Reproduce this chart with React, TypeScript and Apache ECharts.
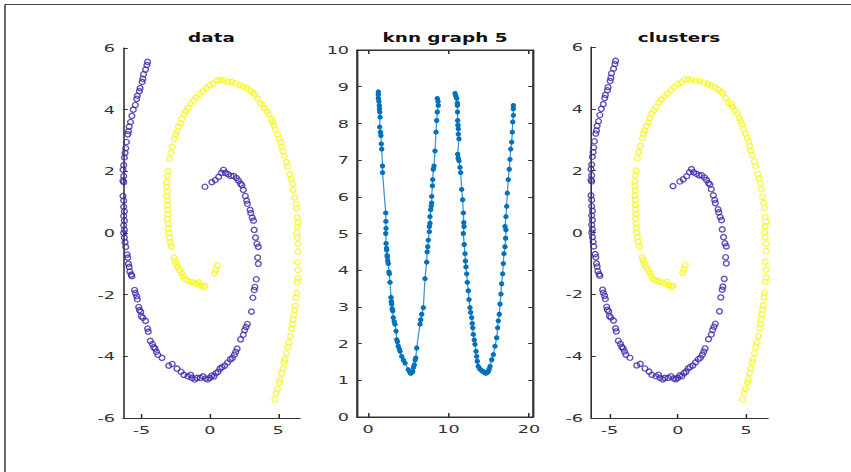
import React, { useEffect, useRef } from "react";
import * as echarts from "echarts";

// ---------- data ----------
const purpleSpiral: [number, number][] = [
  [-4.55, 5.55], [-4.6, 5.45], [-4.7, 5.3], [-4.85, 5.15], [-4.9, 5.0], [-4.95, 4.9], [-5.1, 4.7], [-5.15, 4.6],
  [-5.3, 4.45], [-5.35, 4.35], [-5.45, 4.15], [-5.6, 4.0], [-5.7, 3.8], [-5.8, 3.6], [-5.9, 3.45], [-5.95, 3.3],
  [-6.0, 3.2], [-6.1, 2.95], [-6.15, 2.75], [-6.2, 2.6], [-6.25, 2.45], [-6.3, 2.2], [-6.35, 2.05], [-6.3, 1.85],
  [-6.35, 1.7], [-6.3, 1.65], [-6.35, 1.2], [-6.3, 1.05], [-6.3, 0.85], [-6.25, 0.7], [-6.3, 0.55], [-6.25, 0.4],
  [-6.3, 0.25], [-6.25, 0.1], [-6.3, 0.0], [-6.25, -0.15], [-6.2, -0.3], [-6.15, -0.45], [-6.05, -0.7], [-6.0, -0.8],
  [-5.95, -1.0], [-5.9, -1.1], [-5.85, -1.25], [-5.75, -1.35], [-5.7, -1.4], [-5.5, -1.85], [-5.45, -1.95], [-5.35, -2.05],
  [-5.3, -2.15], [-5.2, -2.4], [-5.15, -2.5], [-5.05, -2.55], [-5.0, -2.7], [-4.9, -2.75], [-4.7, -2.85], [-4.55, -3.1],
  [-4.5, -3.2], [-4.35, -3.5], [-4.2, -3.6], [-4.1, -3.7], [-4.0, -3.75], [-3.9, -3.85], [-3.8, -3.95], [-3.5, -4.05],
  [-3.0, -4.3], [-2.75, -4.25], [-2.4, -4.4], [-2.1, -4.5], [-1.9, -4.6], [-1.6, -4.65], [-1.4, -4.6], [-1.3, -4.7],
  [-1.1, -4.75], [-0.95, -4.7], [-0.7, -4.7], [-0.5, -4.65], [-0.3, -4.72], [-0.15, -4.75], [0.0, -4.7], [0.15, -4.62],
  [0.3, -4.65], [0.45, -4.55], [0.6, -4.5], [0.75, -4.4], [0.9, -4.35], [1.1, -4.3], [1.3, -4.2], [1.5, -4.1],
  [1.65, -4.05], [1.8, -3.95], [1.9, -3.85], [2.0, -3.75], [2.25, -3.45], [2.45, -3.3], [2.55, -3.15], [2.65, -3.05],
  [2.75, -2.95], [3.05, -2.55], [3.15, -2.1], [3.25, -1.85], [3.3, -1.75], [3.4, -1.5], [3.55, -1.0], [3.5, -0.8],
  [3.55, -0.45], [3.45, -0.35], [3.35, -0.15], [3.25, 0.1], [3.2, 0.4], [3.1, 0.5], [3.0, 0.65], [2.95, 0.75],
  [2.75, 0.95], [2.7, 1.05], [2.6, 1.2], [2.45, 1.4], [2.35, 1.55], [2.25, 1.6], [2.1, 1.7], [1.95, 1.78],
  [1.75, 1.85], [1.55, 1.85], [1.35, 1.9], [1.15, 1.95], [1.0, 2.05], [0.85, 1.95], [0.65, 1.82], [0.4, 1.72],
  [0.15, 1.65], [-0.35, 1.5],
];

const yellowSpiral: [number, number][] = [
  [4.75, -5.4], [4.85, -5.2], [4.95, -5.05], [5.1, -4.85], [5.15, -4.75], [5.25, -4.55], [5.35, -4.4], [5.45, -4.2],
  [5.5, -4.1], [5.6, -3.9], [5.7, -3.7], [5.8, -3.55], [5.9, -3.35], [6.0, -3.1], [6.05, -2.95], [6.1, -2.8],
  [6.15, -2.65], [6.2, -2.5], [6.25, -2.35], [6.3, -2.1], [6.35, -1.95], [6.4, -1.6], [6.45, -1.45], [6.45, -1.2],
  [6.4, -0.95], [6.45, -0.6], [6.45, -0.35], [6.4, -0.15], [6.35, 0.0], [6.4, 0.2], [6.45, 0.35], [6.4, 0.5],
  [6.35, 0.8], [6.3, 0.95], [6.2, 1.15], [6.1, 1.4], [6.05, 1.6], [5.95, 1.75], [5.85, 1.9], [5.7, 2.15],
  [5.6, 2.3], [5.45, 2.5], [5.35, 2.65], [5.25, 2.8], [5.2, 2.95], [5.1, 3.05], [4.95, 3.2], [4.8, 3.35],
  [4.7, 3.5], [4.6, 3.6], [4.5, 3.7], [4.35, 3.85], [4.2, 3.95], [4.0, 4.05], [3.9, 4.15], [3.7, 4.2],
  [3.5, 4.35], [3.3, 4.5], [3.15, 4.55], [2.95, 4.62], [2.7, 4.7], [2.45, 4.75], [2.2, 4.8], [1.9, 4.85],
  [1.6, 4.9], [1.3, 4.9], [1.0, 4.95], [0.75, 4.95], [0.5, 4.95], [0.25, 4.85], [0.0, 4.8], [-0.25, 4.7],
  [-0.5, 4.6], [-0.75, 4.5], [-1.0, 4.4], [-1.2, 4.3], [-1.4, 4.2], [-1.6, 4.05], [-1.75, 3.95], [-1.9, 3.85],
  [-2.05, 3.7], [-2.15, 3.55], [-2.3, 3.45], [-2.4, 3.3], [-2.5, 3.2], [-2.6, 3.05], [-2.75, 2.8], [-2.85, 2.6],
  [-2.95, 2.4], [-3.05, 2.0], [-3.1, 1.85], [-3.15, 1.65], [-3.15, 1.5], [-3.1, 1.35], [-3.15, 1.2], [-3.1, 1.05],
  [-3.1, 0.9], [-3.1, 0.75], [-3.05, 0.6], [-3.1, 0.45], [-3.05, 0.3], [-3.05, 0.15], [-3.0, 0.0], [-2.95, -0.15],
  [-2.9, -0.3], [-2.8, -0.45], [-2.6, -0.8], [-2.55, -0.9], [-2.45, -1.0], [-2.35, -1.1], [-2.2, -1.2], [-2.05, -1.3],
  [-1.95, -1.4], [-1.8, -1.5], [-1.6, -1.55], [-1.4, -1.58], [-1.2, -1.6], [-1.0, -1.65], [-0.8, -1.6], [-0.65, -1.7],
  [-0.5, -1.75], [-0.35, -1.72], [0.35, -1.3], [0.45, -1.2], [0.55, -1.05],
];

const knnFirst: [number, number][] = [
  [1.28, 8.86], [1.28, 8.78], [1.28, 8.68], [1.35, 8.6], [1.4, 8.49], [1.42, 8.4], [1.45, 8.31], [1.5, 8.17],
  [1.45, 7.9], [1.55, 7.76], [1.6, 7.67], [1.65, 7.44], [1.7, 7.3], [1.8, 6.84], [1.8, 6.66], [2.2, 5.56],
  [2.22, 5.33], [2.24, 5.14], [2.2, 5.0], [2.24, 4.73], [2.3, 4.6], [2.32, 4.55], [2.38, 4.4], [2.4, 4.36],
  [2.45, 4.25], [2.52, 4.18], [2.6, 3.95], [2.65, 3.9], [2.73, 3.67], [2.86, 3.26], [2.9, 3.15], [2.94, 3.08],
  [3.0, 2.95], [3.07, 2.89], [3.14, 2.71], [3.25, 2.6], [3.35, 2.53], [3.48, 2.34], [3.57, 2.11], [3.65, 2.05],
  [3.76, 1.93], [3.9, 1.85], [3.98, 1.79], [4.19, 1.65], [4.4, 1.55], [4.6, 1.47], [5.0, 1.29], [5.2, 1.22],
  [5.3, 1.19], [5.4, 1.2], [5.55, 1.24], [5.65, 1.35], [5.75, 1.42], [5.85, 1.55], [5.93, 1.61], [6.05, 1.88],
  [6.46, 2.53], [6.55, 2.65], [6.67, 2.8], [6.87, 2.98], [7.08, 3.77], [7.29, 4.22], [7.35, 4.5], [7.42, 4.64],
  [7.49, 4.82], [7.62, 5.05], [7.62, 5.19], [7.7, 5.28], [7.7, 5.46], [7.79, 5.65], [7.85, 5.75], [7.91, 5.83],
  [7.91, 6.01], [8.0, 6.3], [8.04, 6.47], [8.11, 6.75], [8.2, 6.84], [8.32, 7.25], [8.45, 7.76], [8.53, 8.08],
  [8.61, 8.31], [8.73, 8.49], [8.7, 8.6], [8.61, 8.68],
];

const knnSecond: [number, number][] = [
  [10.81, 8.82], [10.9, 8.75], [11.02, 8.68], [11.1, 8.55], [11.1, 8.49], [11.12, 8.31], [11.14, 8.08], [11.18, 7.95],
  [11.22, 7.85], [11.22, 7.71], [11.3, 7.58], [11.14, 7.16], [11.2, 7.05], [11.3, 6.98], [11.43, 6.8], [11.51, 6.66],
  [11.64, 6.2], [11.76, 5.92], [11.84, 5.56], [11.9, 5.3], [11.93, 5.19], [11.84, 5.0], [11.95, 4.7], [12.05, 4.45],
  [12.1, 4.25], [12.17, 4.09], [12.26, 3.9], [12.34, 3.67], [12.46, 3.44], [12.55, 3.2], [12.67, 2.98], [12.75, 2.85],
  [12.88, 2.71], [12.95, 2.55], [13.01, 2.43], [13.08, 2.25], [13.2, 2.1], [13.29, 1.98], [13.42, 1.79], [13.5, 1.65],
  [13.58, 1.52], [13.7, 1.38], [13.85, 1.32], [14.0, 1.29], [14.15, 1.25], [14.33, 1.24], [14.5, 1.2], [14.66, 1.19],
  [14.8, 1.21], [14.94, 1.24], [15.05, 1.3], [15.16, 1.38], [15.37, 1.56], [15.57, 1.7], [15.78, 1.93], [15.99, 2.16],
  [16.11, 2.43], [16.19, 2.62], [16.31, 2.8], [16.4, 3.08], [16.52, 3.35], [16.6, 3.63], [16.73, 3.9], [16.81, 4.18],
  [16.89, 4.45], [17.02, 4.64], [17.1, 4.87], [17.14, 5.1], [17.02, 5.19], [17.14, 5.46], [17.23, 5.74], [17.31, 6.1],
  [17.43, 6.47], [17.55, 6.75], [17.64, 7.02], [17.73, 7.3], [17.85, 7.49], [17.93, 7.76], [17.98, 8.04], [18.06, 8.22],
  [18.06, 8.4], [18.06, 8.49],
];

const spiralXTicks = [-5, 0, 5];
const knnXTicks = [0, 10, 20];
const titles = ["data", "knn graph 5", "clusters"];

// ---------- layout (the reference is stretched horizontally) ----------
const W = 851;
const H = 472;
const S = 1.6; // horizontal stretch factor
const FONT = '"DejaVu Sans", "Noto Sans", sans-serif';
const AXIS_COLOR = "#333333";
const LABEL_COLOR = "#333333";
const PURPLE = "#3E26A8";
const YELLOW = "#F6F815";
const BLUE = "#0072BD";

const px = (v: number) => v / S;

function valueAxis(extra: any) {
  return {
    type: "value",
    show: true,
    splitLine: { show: false },
    axisLine: { show: true, onZero: false, lineStyle: { color: AXIS_COLOR, width: 1 } },
    axisTick: { show: true, inside: true, length: 3, lineStyle: { color: AXIS_COLOR } },
    axisLabel: { color: LABEL_COLOR, fontFamily: FONT, fontSize: 11, margin: 5 },
    ...extra,
  };
}

export default function App() {
  const ref = useRef<HTMLDivElement>(null);

  useEffect(() => {
    if (!ref.current) return;
    const chart = echarts.init(ref.current, null, { renderer: "svg", width: W / S, height: H });

    const grids = [
      { left: px(123), top: 48, width: px(177), height: 370 },
      {
        left: px(357), top: 50, width: px(176), height: 367,
        show: true, borderColor: AXIS_COLOR, borderWidth: 1, backgroundColor: "rgba(0,0,0,0)",
      },
      { left: px(591), top: 47, width: px(177), height: 371 },
    ];

    const xAxes = [
      valueAxis({
        gridIndex: 0, min: -6.35, max: 6.6, position: "bottom",
        axisTick: { show: true, inside: true, length: 4, customValues: spiralXTicks, lineStyle: { color: AXIS_COLOR } },
        axisLabel: { color: LABEL_COLOR, fontFamily: FONT, fontSize: 11, margin: 6, customValues: spiralXTicks },
      }),
      valueAxis({
        gridIndex: 1, min: -1.37, max: 20.5, position: "bottom",
        axisTick: { show: true, inside: true, length: 4, customValues: knnXTicks, lineStyle: { color: AXIS_COLOR } },
        axisLabel: { color: LABEL_COLOR, fontFamily: FONT, fontSize: 11, margin: 6, customValues: knnXTicks },
      }),
      valueAxis({
        gridIndex: 1, min: -1.37, max: 20.5, position: "top",
        axisTick: { show: true, inside: true, length: 4, customValues: knnXTicks, lineStyle: { color: AXIS_COLOR } },
        axisLabel: { show: false, customValues: knnXTicks },
      }),
      valueAxis({
        gridIndex: 2, min: -6.35, max: 6.6, position: "bottom",
        axisTick: { show: true, inside: true, length: 4, customValues: spiralXTicks, lineStyle: { color: AXIS_COLOR } },
        axisLabel: { color: LABEL_COLOR, fontFamily: FONT, fontSize: 11, margin: 6, customValues: spiralXTicks },
      }),
    ];

    const yAxes = [
      valueAxis({ gridIndex: 0, min: -6, max: 6, interval: 2, position: "left" }),
      valueAxis({ gridIndex: 1, min: 0, max: 10, interval: 1, position: "left" }),
      valueAxis({ gridIndex: 1, min: 0, max: 10, interval: 1, position: "right", axisLabel: { show: false } }),
      valueAxis({ gridIndex: 2, min: -6, max: 6, interval: 2, position: "left" }),
    ];

    const scatter = (data: [number, number][], color: string, axis: number) => ({
      type: "scatter",
      xAxisIndex: axis,
      yAxisIndex: axis,
      data,
      symbol: "circle",
      symbolSize: [3.6, 5.2],
      itemStyle: { color: "rgba(0,0,0,0)", borderColor: color, borderWidth: 1.1 },
      silent: true,
    });

    const knnLine = (data: [number, number][]) => ({
      type: "line",
      xAxisIndex: 1,
      yAxisIndex: 1,
      data,
      symbol: "circle",
      symbolSize: [3.4, 5],
      showSymbol: true,
      lineStyle: { color: BLUE, width: 0.8, opacity: 0.75 },
      itemStyle: { color: BLUE, borderWidth: 0 },
      silent: true,
    });

    // an empty series so the knn panel's top and right axes are attached and drawn
    const boxAxes = {
      type: "line",
      xAxisIndex: 2,
      yAxisIndex: 2,
      data: [] as [number, number][],
      silent: true,
    };

    const titleCenters = [px(211.5), px(445), px(679)];

    chart.setOption({
      animation: false,
      backgroundColor: "#ffffff",
      grid: grids,
      xAxis: xAxes,
      yAxis: yAxes,
      series: [
        scatter(purpleSpiral, PURPLE, 0),
        scatter(yellowSpiral, YELLOW, 0),
        knnLine(knnFirst),
        knnLine(knnSecond),
        boxAxes,
        scatter(purpleSpiral, PURPLE, 3),
        scatter(yellowSpiral, YELLOW, 3),
      ],
      graphic: [
        ...titles.map((t, i) => ({
          type: "text",
          x: titleCenters[i],
          y: 38,
          style: {
            text: t,
            align: "center",
            verticalAlign: "middle",
            fontFamily: FONT,
            fontSize: 11.5,
            fontWeight: "bold",
            fill: "#111111",
          },
        })),
        { type: "line", shape: { x1: px(5), y1: 4.5, x2: W / S, y2: 4.5 }, style: { stroke: "#444444", lineWidth: 1 } },
        { type: "line", shape: { x1: px(5), y1: 4.5, x2: px(5), y2: H }, style: { stroke: "#444444", lineWidth: 1 } },
      ],
    });

    return () => chart.dispose();
  }, []);

  return (
    <div
      style={{
        position: "fixed",
        left: 0,
        top: 0,
        width: W,
        height: H,
        overflow: "hidden",
        background: "#ffffff",
      }}
    >
      <div
        ref={ref}
        style={{
          width: W / S,
          height: H,
          transform: `scale(${S}, 1)`,
          transformOrigin: "0 0",
        }}
      />
    </div>
  );
}
